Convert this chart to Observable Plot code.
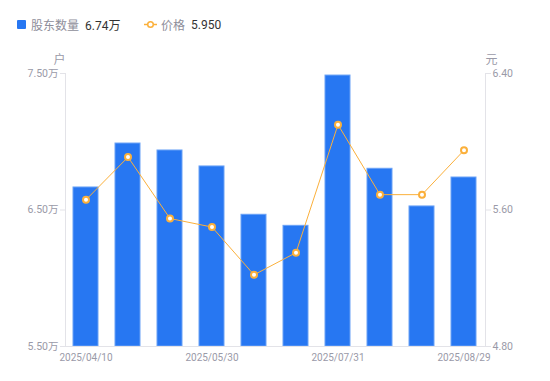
<!DOCTYPE html>
<html>
<head>
<meta charset="utf-8">
<script src="https://cdn.jsdelivr.net/npm/d3@7"></script>
<script src="https://cdn.jsdelivr.net/npm/@observablehq/plot@0.6"></script>
<style>
  html, body { margin: 0; padding: 0; background: #fff; }
  body { width: 550px; height: 381px; overflow: hidden; font-family: Roboto, "Noto Sans CJK SC", sans-serif; }
  #legend { height: 45px; position: relative; font-size: 12px; }
  .item { position: absolute; top: 16px; display: flex; align-items: center; white-space: nowrap; }
  .lab { color: #8e8e9a; }
  .val { color: #333; margin-left: 6px; }
</style>
</head>
<body>
<div id="legend"></div>
<div id="chart"></div>
<script>
const dates = ["2025/04/10","2025/04/30","2025/05/20","2025/05/30","2025/06/20","2025/06/30","2025/07/31","2025/08/10","2025/08/20","2025/08/29"];
const holders = [66650, 69870, 69360, 68190, 64650, 63840, 74850, 68020, 65260, 67380];
const prices = [5.66, 5.91, 5.55, 5.50, 5.22, 5.35, 6.10, 5.69, 5.69, 5.95];
const leftTicks = [55000, 65000, 75000];
const rightTicks = [4.80, 5.60, 6.40];
const xTicks = ["2025/04/10","2025/05/30","2025/07/31","2025/08/29"];
const seriesNames = ["股东数量", "价格"];
const unitLeft = "户", unitRight = "元";

const blue = "#2777f2", orange = "#fbb03b", axisColor = "#e3e3e8", textColor = "#9a9aa8";
const yMin = 55000, yMax = 75000, pMin = 4.8, pMax = 6.4;
const p2y = p => yMin + (p - pMin) / (pMax - pMin) * (yMax - yMin);
const y2p = v => pMin + (v - yMin) / (yMax - yMin) * (pMax - pMin);

const data = dates.map((d, i) => ({date: d, holders: holders[i], price: prices[i]}));

// legend
const lastH = holders[holders.length - 1], lastP = prices[prices.length - 1];
document.getElementById("legend").innerHTML = `
  <div class="item" style="left:17px"><span style="display:inline-block;width:9px;height:9px;background:${blue};border-radius:1px;margin-right:5px"></span><span class="lab">${seriesNames[0]}</span><span class="val">${(lastH/10000).toFixed(2)}万</span></div>
  <div class="item" style="left:144px"><svg width="13" height="9" style="margin-right:4px"><line x1="0" y1="4.5" x2="13" y2="4.5" stroke="${orange}" stroke-width="1.5"/><circle cx="6.5" cy="4.5" r="2.8" fill="#fff" stroke="${orange}" stroke-width="1.5"/></svg><span class="lab">${seriesNames[1]}</span><span class="val">${lastP.toFixed(3)}</span></div>`;

const chart = Plot.plot({
  width: 550,
  height: 336,
  marginTop: 28,
  marginBottom: 35,
  marginLeft: 65,
  marginRight: 65,
  style: {fontFamily: "Roboto, 'Noto Sans CJK SC', sans-serif", fontSize: "10.5px", color: textColor, background: "#fff"},
  x: {type: "band", domain: dates, paddingInner: 0.4, paddingOuter: 0.2},
  y: {domain: [yMin, yMax]},
  marks: [
    Plot.barY(data, {x: "date", y1: yMin, y2: "holders", fill: blue, stroke: "#6aa2f6", strokeWidth: 1}),
    Plot.frame({anchor: "left", stroke: axisColor}),
    Plot.frame({anchor: "right", stroke: axisColor}),
    Plot.frame({anchor: "bottom", stroke: axisColor}),
    Plot.axisX(xTicks, {anchor: "bottom", tickSize: 0, tickPadding: 7, label: null, fill: textColor, fontSize: 10}),
    Plot.axisY(leftTicks, {anchor: "left", tickSize: 5, tickPadding: 2, stroke: axisColor, fill: textColor,
      tickFormat: v => (v / 10000).toFixed(2) + "万", label: null}),
    Plot.axisY(rightTicks.map(p2y), {anchor: "right", tickSize: 5, tickPadding: 2, stroke: axisColor, fill: textColor,
      tickFormat: v => y2p(v).toFixed(2), label: null}),
    Plot.text([unitLeft], {frameAnchor: "top-left", dx: -6, dy: -18, fontSize: 12, fill: textColor, textAnchor: "middle"}),
    Plot.text([unitRight], {frameAnchor: "top-right", dx: 6, dy: -18, fontSize: 12, fill: textColor, textAnchor: "middle"}),
    Plot.line(data, {x: "date", y: d => p2y(d.price), stroke: orange, strokeWidth: 1}),
    Plot.dot(data, {x: "date", y: d => p2y(d.price), r: 3, fill: "#fff", stroke: orange, strokeWidth: 2})
  ]
});
document.getElementById("chart").appendChild(chart);
</script>
</body>
</html>
